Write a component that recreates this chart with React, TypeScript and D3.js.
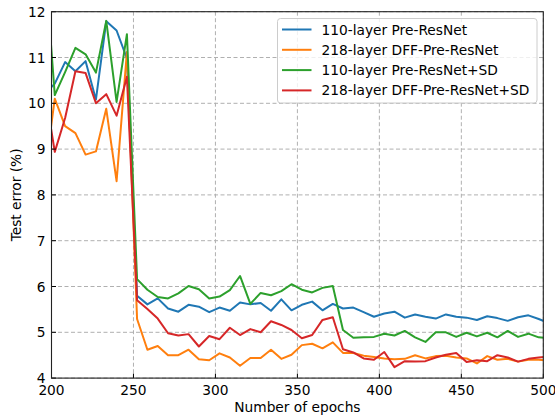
import React from "react";
import * as d3 from "d3";

const epochs = [195.7, 202, 208.3, 214.6, 220.8, 227.1, 233.4, 239.7, 246, 252.2, 258.5, 264.8, 271.1, 277.4, 283.6, 289.9, 296.2, 302.5, 308.8, 315, 321.3, 327.6, 333.9, 340.2, 346.4, 352.7, 359, 365.3, 371.6, 377.8, 384.1, 390.4, 396.7, 403, 409.2, 415.5, 421.8, 428.1, 434.4, 440.6, 446.9, 453.2, 459.5, 465.8, 472, 478.3, 484.6, 490.9, 497.2, 503.4];

const preResNet = [10.2, 10.43, 10.9, 10.7, 10.92, 10.08, 11.79, 11.59, 10.98, 5.8, 5.61, 5.74, 5.52, 5.45, 5.6, 5.56, 5.44, 5.54, 5.47, 5.65, 5.61, 5.64, 5.47, 5.72, 5.48, 5.6, 5.67, 5.48, 5.62, 5.52, 5.54, 5.44, 5.34, 5.41, 5.45, 5.32, 5.39, 5.34, 5.3, 5.39, 5.34, 5.32, 5.27, 5.35, 5.31, 5.25, 5.33, 5.37, 5.29, 5.2];

const dffPreResNet = [8.4, 10.1, 9.5, 9.35, 8.88, 8.95, 9.88, 8.3, 11.12, 5.29, 4.62, 4.7, 4.5, 4.5, 4.62, 4.41, 4.39, 4.54, 4.45, 4.27, 4.44, 4.44, 4.62, 4.42, 4.51, 4.72, 4.75, 4.65, 4.78, 4.55, 4.55, 4.49, 4.46, 4.43, 4.41, 4.42, 4.5, 4.43, 4.48, 4.49, 4.45, 4.43, 4.32, 4.48, 4.4, 4.42, 4.36, 4.4, 4.4, 4.38];

const preResNetSD = [13.2, 10.18, 10.68, 11.21, 11.07, 10.67, 11.8, 10.03, 11.51, 6.16, 5.93, 5.77, 5.74, 5.85, 6.01, 5.94, 5.74, 5.78, 5.92, 6.23, 5.62, 5.86, 5.81, 5.9, 6.05, 5.93, 5.87, 5.97, 6.01, 5.05, 4.88, 4.89, 4.9, 4.97, 4.93, 5.03, 4.89, 4.79, 5.0, 5.0, 4.9, 4.99, 4.91, 4.99, 4.89, 5.03, 4.9, 4.97, 4.89, 4.87];

const dffPreResNetSD = [10.35, 8.94, 9.68, 10.7, 10.66, 10.0, 10.2, 9.73, 10.58, 5.7, 5.51, 5.3, 4.98, 4.93, 4.96, 4.69, 4.92, 4.85, 5.1, 4.94, 5.07, 5.0, 5.24, 5.16, 5.05, 4.87, 4.94, 5.27, 5.33, 4.63, 4.56, 4.43, 4.4, 4.57, 4.24, 4.37, 4.36, 4.37, 4.45, 4.51, 4.55, 4.35, 4.39, 4.37, 4.5, 4.45, 4.36, 4.42, 4.45, 4.47];

const seriesNames = [
  "110-layer Pre-ResNet",
  "218-layer DFF-Pre-ResNet",
  "110-layer Pre-ResNet+SD",
  "218-layer DFF-Pre-ResNet+SD",
];
const seriesColors = ["#1f77b4", "#ff7f0e", "#2ca02c", "#d62728"];
const seriesValues = [preResNet, dffPreResNet, preResNetSD, dffPreResNetSD];

const xTicks = [200, 250, 300, 350, 400, 450, 500];
const yTicks = [4, 5, 6, 7, 8, 9, 10, 11, 12];
const xLabel = "Number of epochs";
const yLabel = "Test error (%)";

const W = 555;
const H = 418;
const L = 51.5;
const R = 543.3;
const T = 11.7;
const B = 378.1;
const FONT = "DejaVu Sans, sans-serif";
const FS = 13.75;

export default function App() {
  const x = d3.scaleLinear().domain([200, 500]).range([L, R]);
  const y = d3.scaleLinear().domain([4, 12]).range([B, T]);
  const line = d3
    .line<number>()
    .x((_, i) => x(epochs[i]))
    .y((d) => y(d));

  const legX = 277.5;
  const legY = 18.5;
  const legW = 259.5;
  const legH = 84.5;
  const rowY = [29.5, 49.8, 70.1, 90.4];

  return (
    <svg
      width={W}
      height={H}
      style={{ position: "absolute", left: 0, top: 0, background: "#fff" }}
      fontFamily={FONT}
    >
      <defs>
        <clipPath id="plotclip">
          <rect x={L} y={T} width={R - L} height={B - T} />
        </clipPath>
      </defs>
      <rect x={0} y={0} width={W} height={H} fill="#fff" />
      {/* grid */}
      <g stroke="#b0b0b0" strokeWidth={1} strokeDasharray="4,2.5">
        {xTicks.map((t) => (
          <line key={"gx" + t} x1={x(t)} x2={x(t)} y1={T} y2={B} />
        ))}
        {yTicks.map((t) => (
          <line key={"gy" + t} x1={L} x2={R} y1={y(t)} y2={y(t)} />
        ))}
      </g>
      {/* lines */}
      <g clipPath="url(#plotclip)" fill="none" strokeWidth={2} strokeLinejoin="round" strokeLinecap="square">
        {seriesValues.map((vals, i) => (
          <path key={i} d={line(vals) || ""} stroke={seriesColors[i]} />
        ))}
      </g>
      {/* ticks */}
      <g stroke="#000" strokeWidth={1}>
        {xTicks.map((t) => (
          <line key={"tx" + t} x1={x(t)} x2={x(t)} y1={B} y2={B - 4.5} />
        ))}
        {yTicks.map((t) => (
          <line key={"ty" + t} x1={L} x2={L + 4.5} y1={y(t)} y2={y(t)} />
        ))}
      </g>
      {/* frame */}
      <rect x={L} y={T} width={R - L} height={B - T} fill="none" stroke="#222" strokeWidth={1.1} />
      {/* tick labels */}
      <g fontSize={FS} fill="#000">
        {xTicks.map((t) => (
          <text key={"lx" + t} x={x(t)} y={B + 17} textAnchor="middle">
            {t}
          </text>
        ))}
        {yTicks.map((t) => (
          <text key={"ly" + t} x={L - 6} y={y(t) + 5} textAnchor="end">
            {t}
          </text>
        ))}
      </g>
      <text x={(L + R) / 2} y={412} textAnchor="middle" fontSize={FS} fill="#000">
        {xLabel}
      </text>
      <text
        transform={`translate(20.5, ${(T + B) / 2}) rotate(-90)`}
        textAnchor="middle"
        fontSize={FS}
        fill="#000"
      >
        {yLabel}
      </text>
      {/* legend */}
      <rect
        x={legX}
        y={legY}
        width={legW}
        height={legH}
        rx={3}
        fill="#fff"
        fillOpacity={0.8}
        stroke="#cccccc"
        strokeWidth={1}
      />
      {seriesNames.map((name, i) => (
        <g key={name}>
          <line x1={282} x2={311.5} y1={rowY[i]} y2={rowY[i]} stroke={seriesColors[i]} strokeWidth={2} />
          <text x={321.5} y={rowY[i] + 5} fontSize={FS} fill="#000">
            {name}
          </text>
        </g>
      ))}
    </svg>
  );
}
